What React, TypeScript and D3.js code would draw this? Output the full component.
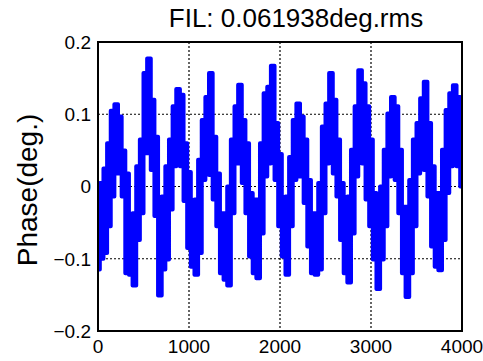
import React from "react";
import * as d3 from "d3";

const SAMPLE_STEP = 40;
// upper envelope of the phase trace (deg), one value per 40 samples
const upperEnv = [
  0.002, 0.005, 0.025, 0.06, 0.105, 0.114, 0.097, 0.05, 0.018, -0.048,
  -0.037, 0.028, 0.065, 0.157, 0.177, 0.12, 0.069, -0.018, -0.014, 0.028,
  0.065, 0.111, 0.135, 0.127, 0.06, 0.02, -0.037, -0.018, 0.037, 0.092,
  0.124, 0.157, 0.069, 0.018, -0.037, -0.037, 0.0, 0.065, 0.111, 0.141,
  0.092, 0.06, -0.009, -0.018, -0.018, 0.06, 0.129, 0.138, 0.167, 0.088,
  0.045, -0.018, -0.014, 0.041, 0.092, 0.115, 0.097, 0.065, 0.009, -0.037,
  -0.037, 0.005, 0.083, 0.115, 0.157, 0.12, 0.065, 0.005, -0.018, -0.014,
  0.051, 0.111, 0.161, 0.143, 0.111, 0.065, -0.009, -0.023, 0.0, 0.051,
  0.101, 0.124, 0.111, 0.051, -0.028, -0.028, 0.009, 0.065, 0.088, 0.122,
  0.145, 0.088, 0.028, -0.009, -0.009, 0.051, 0.106, 0.129, 0.14, 0.124,
  0.108,
];
// lower envelope of the phase trace (deg)
const lowerEnv = [
  -0.115, -0.1, -0.092, -0.055, -0.014, 0.018, 0.018, -0.014, -0.12, -0.122,
  -0.137, -0.074, -0.037, 0.046, 0.046, 0.023, -0.041, -0.151, -0.115, -0.101,
  -0.032, 0.028, 0.037, 0.028, -0.02, -0.085, -0.111, -0.122, -0.092, 0.009,
  0.018, 0.016, -0.018, -0.055, -0.12, -0.129, -0.137, -0.037, 0.032, 0.032,
  0.005, -0.037, -0.097, -0.12, -0.127, -0.065, 0.014, 0.032, 0.037, 0.009,
  -0.055, -0.097, -0.122, -0.055, 0.009, 0.014, 0.014, -0.023, -0.083, -0.12,
  -0.122, -0.115, -0.037, 0.032, 0.037, 0.018, -0.014, -0.074, -0.12, -0.133,
  -0.065, 0.014, 0.046, 0.032, -0.018, -0.055, -0.101, -0.142, -0.101, -0.055,
  0.014, 0.018, 0.009, -0.037, -0.12, -0.153, -0.12, -0.055, 0.018, 0.028,
  0.023, -0.014, -0.083, -0.111, -0.116, -0.074, -0.009, 0.028, 0.037, 0.028,
  0.0,
];
const xTicks = [0, 1000, 2000, 3000, 4000];
const yTicks = [-0.2, -0.1, 0, 0.1, 0.2];
const titleText = "FIL: 0.061938deg.rms";
const yLabel = "Phase(deg.)";

const W = 483, H = 361;
const M = { left: 98, right: 462, top: 42, bottom: 331 };
const FONT = "'Liberation Sans', Arial, sans-serif";

export default function App() {
  const x = d3.scaleLinear().domain([0, 4000]).range([M.left, M.right]);
  const y = d3.scaleLinear().domain([-0.2, 0.2]).range([M.bottom, M.top]);
  const pts = upperEnv.map((u, i) => ({ s: i * SAMPLE_STEP, u, l: lowerEnv[i] }));
  const area = d3
    .area<{ s: number; u: number; l: number }>()
    .x((d) => x(d.s))
    .y0((d) => y(d.l))
    .y1((d) => y(d.u))
    .curve(d3.curveStep);
  const fmt = (v: number) =>
    v === 0 ? "0" : v < 0 ? "\u2212" + d3.format(".1f")(-v) : d3.format(".1f")(v);
  return (
    <svg width={W} height={H} style={{ position: "absolute", left: 0, top: 0, background: "#fff" }}>
      <rect x={0} y={0} width={W} height={H} fill="#fff" />
      <defs>
        <clipPath id="plotclip">
          <rect x={M.left} y={M.top - 5} width={M.right - M.left} height={M.bottom - M.top + 10} />
        </clipPath>
      </defs>
      {/* grid */}
      {xTicks.slice(1, -1).map((t) => (
        <line key={"gx" + t} x1={x(t)} x2={x(t)} y1={M.top} y2={M.bottom} stroke="#000" strokeWidth={1.2} strokeDasharray="2,2" />
      ))}
      {yTicks.slice(1, -1).map((t) => (
        <line key={"gy" + t} x1={M.left} x2={M.right} y1={y(t)} y2={y(t)} stroke="#000" strokeWidth={1.2} strokeDasharray="2,2" />
      ))}
      {/* data */}
      <g clipPath="url(#plotclip)">
        <path d={area(pts) || ""} fill="#0000ff" stroke="#0000ff" strokeWidth={4} strokeLinejoin="round" />
      </g>
      {/* frame */}
      <rect x={M.left} y={M.top} width={M.right - M.left} height={M.bottom - M.top} fill="none" stroke="#000" strokeWidth={2} />
      {/* tick labels */}
      {yTicks.map((t) => (
        <text key={"ty" + t} x={M.left - 7} y={y(t)} dy="0.36em" textAnchor="end" fontFamily={FONT} fontSize={19} fill="#000">
          {fmt(t)}
        </text>
      ))}
      {xTicks.map((t) => (
        <text key={"tx" + t} x={x(t)} y={M.bottom + 15} dy="0.36em" textAnchor="middle" fontFamily={FONT} fontSize={19} fill="#000">
          {t}
        </text>
      ))}
      <text x={296} y={27} textAnchor="middle" fontFamily={FONT} fontSize={26} fill="#000">
        {titleText}
      </text>
      <text transform={`translate(37, 190) rotate(-90)`} textAnchor="middle" fontFamily={FONT} fontSize={28} fill="#000">
        {yLabel}
      </text>
    </svg>
  );
}
